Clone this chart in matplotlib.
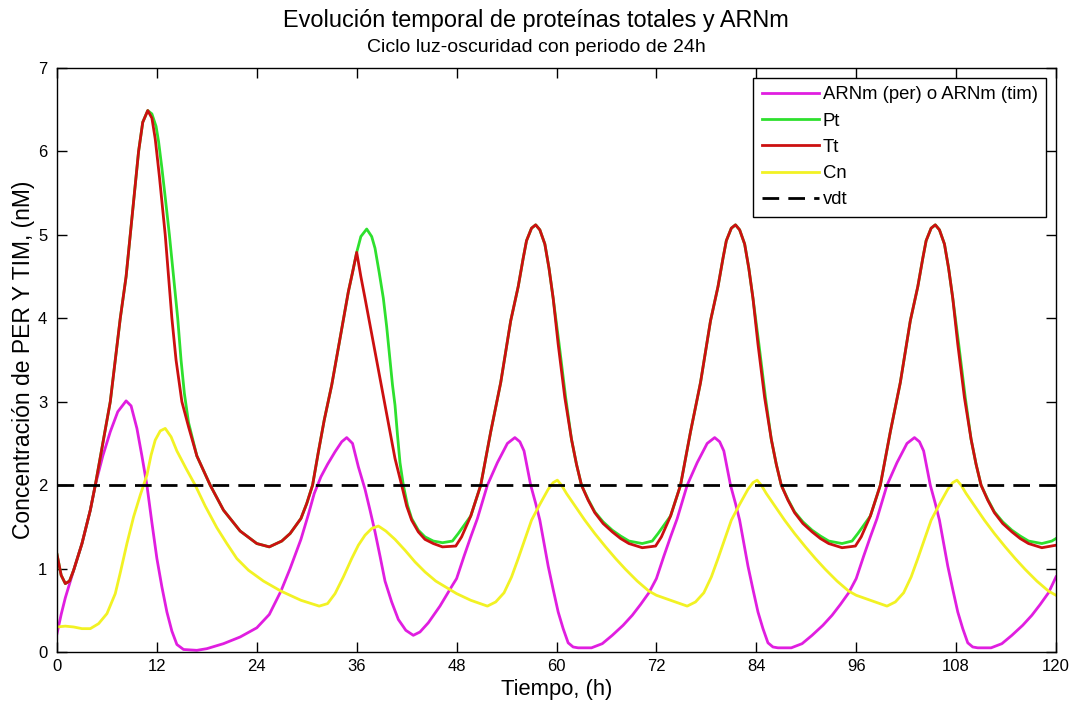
import matplotlib
matplotlib.use("Agg")
import matplotlib.pyplot as plt

plt.rcParams['font.family'] = ['Liberation Sans', 'DejaVu Sans']

# ARNm (per) o ARNm (tim)
t_m = [0, 0.5, 1, 2, 3, 4, 4.6, 5.5, 6.4, 7.3, 8.3, 8.9, 9.6, 10.2, 10.8, 11.4, 12.0, 12.6, 13.2, 13.8,
       14.4, 15.2, 16.8, 18, 20, 22, 24,
       25.5, 26.9, 28, 29.3, 30.2, 30.9, 31.7, 32.5, 33.4, 34.2, 34.8, 35.5, 36.2, 37.0, 37.6, 38.2, 38.8,
       39.4, 40.2, 41.0, 41.9, 42.8, 43.6, 44.6, 46, 47.5, 48,
       48.9, 49.7, 50.5, 51.7, 52.9, 54.1, 55.0, 55.6, 56.1, 56.9, 57.5, 58.0, 59.0, 59.6, 60.2, 60.8,
       61.4, 62.0, 62.6, 64.2, 65.5, 66.7, 68.0, 69.1, 70.1, 71.1, 72,
       72.9, 73.7, 74.5, 75.7, 76.9, 78.1, 79.0, 79.6, 80.1, 80.9, 81.5, 82.0, 83.0, 83.6, 84.2, 84.8,
       85.4, 86.0, 86.6, 88.2, 89.5, 90.7, 92.0, 93.1, 94.1, 95.1, 96,
       96.9, 97.7, 98.5, 99.7, 100.9, 102.1, 103.0, 103.6, 104.1, 104.9, 105.5, 106.0, 107.0, 107.6,
       108.2, 108.8, 109.4, 110.0, 110.6, 112.2, 113.5, 114.7, 116.0, 117.1, 118.1, 119.1, 120]
arnm = [0.22, 0.45, 0.65, 0.98, 1.3, 1.7, 2.0, 2.35, 2.64, 2.88, 3.01, 2.95, 2.68, 2.35, 2.0, 1.55, 1.12,
        0.78, 0.48, 0.25, 0.09, 0.03, 0.02, 0.04, 0.1, 0.18, 0.29,
        0.45, 0.73, 1.0, 1.35, 1.65, 1.9, 2.1, 2.25, 2.4, 2.52, 2.57, 2.5, 2.22, 1.95, 1.7, 1.44, 1.15,
        0.85, 0.6, 0.39, 0.26, 0.2, 0.24, 0.35, 0.55, 0.8, 0.88,
        1.15, 1.38, 1.6, 2.0, 2.27, 2.5, 2.57, 2.52, 2.41, 2.0, 1.78, 1.58, 1.03, 0.75, 0.48, 0.28,
        0.11, 0.06, 0.05, 0.05, 0.1, 0.2, 0.32, 0.44, 0.57, 0.71, 0.88,
        1.15, 1.38, 1.6, 2.0, 2.27, 2.5, 2.57, 2.52, 2.41, 2.0, 1.78, 1.58, 1.03, 0.75, 0.48, 0.28,
        0.11, 0.06, 0.05, 0.05, 0.1, 0.2, 0.32, 0.44, 0.57, 0.71, 0.88,
        1.15, 1.38, 1.6, 2.0, 2.27, 2.5, 2.57, 2.52, 2.41, 2.0, 1.78, 1.58, 1.03, 0.75,
        0.48, 0.28, 0.11, 0.06, 0.05, 0.05, 0.1, 0.2, 0.32, 0.44, 0.57, 0.71, 0.9]

# Tt
t_t = [0, 0.5, 1, 1.5, 2, 3, 4, 4.6, 5.5, 6.4, 7.0, 7.6, 8.3, 8.8, 9.3, 9.8, 10.3, 10.9, 11.4, 11.8,
       12.3, 12.7, 13.0, 13.4, 13.8, 14.3, 15.0, 15.8, 16.8, 18.4, 20, 22, 24,
       25.5, 27, 28, 29.3, 30, 30.7, 31.4, 32.1, 33, 33.8, 34.5, 35, 35.5, 36.0, 36.5, 37, 37.6, 38.2,
       38.8, 39.4, 40, 40.6, 41.4, 42, 42.6, 43.4, 44.2, 45.2, 46.3, 47.9,
       48.6, 49.7, 50.9, 52.1, 53.3, 54.5, 55.4, 56.0, 56.4, 57.0, 57.5, 58.0, 58.6, 59.1, 59.6, 60.2,
       61.0, 61.8, 62.4, 63.0, 63.8, 64.6, 65.6, 66.7, 67.7, 68.7, 70.3, 71.9,
       72.6, 73.7, 74.9, 76.1, 77.3, 78.5, 79.4, 80.0, 80.4, 81.0, 81.5, 82.0, 82.6, 83.1, 83.6, 84.2,
       85.0, 85.8, 86.4, 87.0, 87.8, 88.6, 89.6, 90.7, 91.7, 92.7, 94.3, 95.9,
       96.6, 97.7, 98.9, 100.1, 101.3, 102.5, 103.4, 104.0, 104.4, 105.0, 105.5, 106.0, 106.6, 107.1,
       107.6, 108.2, 109.0, 109.8, 110.4, 111.0, 111.8, 112.6, 113.6, 114.7, 115.7, 116.7, 118.3, 120]
tt = [1.17, 0.92, 0.82, 0.85, 0.98, 1.3, 1.7, 2.0, 2.5, 3.0, 3.5, 4.0, 4.5, 5.0, 5.5, 6.0, 6.35, 6.49,
      6.4, 6.15, 5.7, 5.3, 5.0, 4.5, 4.0, 3.5, 3.0, 2.7, 2.35, 2.0, 1.7, 1.45, 1.3,
      1.26, 1.33, 1.42, 1.6, 1.78, 2.0, 2.4, 2.78, 3.2, 3.65, 4.05, 4.32, 4.55, 4.79, 4.5, 4.24, 3.92,
      3.6, 3.28, 2.96, 2.64, 2.32, 2.0, 1.75, 1.58, 1.44, 1.35, 1.3, 1.26, 1.27,
      1.38, 1.63, 2.0, 2.64, 3.23, 3.97, 4.38, 4.72, 4.93, 5.08, 5.12, 5.06, 4.89, 4.6, 4.24, 3.69,
      3.05, 2.55, 2.25, 2.0, 1.82, 1.67, 1.54, 1.44, 1.36, 1.3, 1.25, 1.27,
      1.38, 1.63, 2.0, 2.64, 3.23, 3.97, 4.38, 4.72, 4.93, 5.08, 5.12, 5.06, 4.89, 4.6, 4.24, 3.69,
      3.05, 2.55, 2.25, 2.0, 1.82, 1.67, 1.54, 1.44, 1.36, 1.3, 1.25, 1.27,
      1.38, 1.63, 2.0, 2.64, 3.23, 3.97, 4.38, 4.72, 4.93, 5.08, 5.12, 5.06, 4.89, 4.6, 4.24, 3.69,
      3.05, 2.55, 2.25, 2.0, 1.82, 1.67, 1.54, 1.44, 1.36, 1.3, 1.25, 1.28]

# Pt
t_p = [0, 0.5, 1, 1.5, 2, 3, 4, 4.6, 5.5, 6.4, 7.0, 7.6, 8.3, 8.8, 9.3, 9.8, 10.3, 10.9, 11.4, 11.9,
       12.2, 12.6, 13.0, 13.5, 14.1, 14.5, 14.9, 15.3, 15.8, 16.8, 18.4, 20, 22, 24,
       25.5, 27, 28, 29.3, 30, 30.7, 31.4, 32.1, 33, 33.8, 34.5, 35, 35.5, 36.0, 36.5, 37.2, 37.8, 38.2,
       38.7, 39.2, 39.6, 40.0, 40.3, 40.6, 40.9, 41.2, 41.6, 42.1, 42.6, 43.4, 44.2, 45.2, 46.3, 47.5,
       48.2, 49.7, 50.9, 52.1, 53.3, 54.5, 55.4, 56.0, 56.4, 57.0, 57.5, 58.0, 58.6, 59.1, 59.6, 60.3,
       61.1, 61.8, 62.4, 63.0, 63.8, 64.6, 65.6, 66.7, 67.7, 68.7, 70.3, 71.5,
       72.2, 73.7, 74.9, 76.1, 77.3, 78.5, 79.4, 80.0, 80.4, 81.0, 81.5, 82.0, 82.6, 83.1, 83.6, 84.3,
       85.1, 85.8, 86.4, 87.0, 87.8, 88.6, 89.6, 90.7, 91.7, 92.7, 94.3, 95.5,
       96.2, 97.7, 98.9, 100.1, 101.3, 102.5, 103.4, 104.0, 104.4, 105.0, 105.5, 106.0, 106.6, 107.1,
       107.6, 108.3, 109.1, 109.8, 110.4, 111.0, 111.8, 112.6, 113.6, 114.7, 115.7, 116.7, 118.3, 119.5, 120]
pt = [1.17, 0.92, 0.82, 0.85, 0.98, 1.3, 1.7, 2.0, 2.5, 3.0, 3.5, 4.0, 4.5, 5.0, 5.5, 6.0, 6.35, 6.49,
      6.45, 6.3, 6.12, 5.8, 5.45, 5.0, 4.4, 4.0, 3.5, 3.1, 2.75, 2.35, 2.0, 1.7, 1.45, 1.3,
      1.26, 1.33, 1.42, 1.6, 1.78, 2.0, 2.4, 2.78, 3.2, 3.65, 4.05, 4.32, 4.55, 4.79, 4.98, 5.07, 4.98,
      4.84, 4.55, 4.24, 3.9, 3.5, 3.2, 2.96, 2.6, 2.27, 2.0, 1.76, 1.6, 1.46, 1.38, 1.33, 1.31, 1.33,
      1.42, 1.63, 2.0, 2.64, 3.23, 3.97, 4.38, 4.72, 4.93, 5.08, 5.12, 5.06, 4.89, 4.6, 4.24, 3.7,
      3.05, 2.55, 2.25, 2.0, 1.83, 1.68, 1.56, 1.46, 1.39, 1.33, 1.3, 1.33,
      1.42, 1.63, 2.0, 2.64, 3.23, 3.97, 4.38, 4.72, 4.93, 5.08, 5.12, 5.06, 4.89, 4.6, 4.24, 3.7,
      3.05, 2.55, 2.25, 2.0, 1.83, 1.68, 1.56, 1.46, 1.39, 1.33, 1.3, 1.33,
      1.42, 1.63, 2.0, 2.64, 3.23, 3.97, 4.38, 4.72, 4.93, 5.08, 5.12, 5.06, 4.89, 4.6, 4.24, 3.7,
      3.05, 2.55, 2.25, 2.0, 1.83, 1.68, 1.56, 1.46, 1.39, 1.33, 1.3, 1.33, 1.36]

# Cn
t_c = [0, 1, 2, 3, 4, 5, 6, 7, 7.6, 8.4, 9.2, 10.0, 10.8, 11.3, 11.8, 12.4, 13.0, 13.7, 14.4, 15.5,
       16.6, 17.8, 19.2, 20.4, 21.6, 23, 24.8, 26.9, 29.3, 31.5, 32.5, 33.4, 34.4, 35.4, 36.2, 37.0,
       37.8, 38.6, 39.5, 40.6, 41.8, 43.0, 44.2, 45.5, 47.5, 48,
       49.7, 51.7, 52.7, 53.7, 54.6, 55.4, 56.2, 57.0, 58.0, 59.0, 59.6, 60.1, 60.6, 61.2, 62.3, 63.4,
       64.6, 65.9, 67.1, 68.3, 69.7, 71.1, 72,
       73.7, 75.7, 76.7, 77.7, 78.6, 79.4, 80.2, 81.0, 82.0, 83.0, 83.6, 84.1, 84.6, 85.2, 86.3, 87.4,
       88.6, 89.9, 91.1, 92.3, 93.7, 95.1, 96,
       97.7, 99.7, 100.7, 101.7, 102.6, 103.4, 104.2, 105.0, 106.0, 107.0, 107.6, 108.1, 108.6, 109.2,
       110.3, 111.4, 112.6, 113.9, 115.1, 116.3, 117.7, 119.1, 120]
cn = [0.3, 0.31, 0.3, 0.28, 0.28, 0.34, 0.46, 0.7, 0.95, 1.3, 1.62, 1.88, 2.12, 2.36, 2.54, 2.65, 2.68,
      2.58, 2.41, 2.2, 2.0, 1.75, 1.49, 1.3, 1.12, 0.98, 0.85, 0.73, 0.62, 0.55, 0.58, 0.7, 0.9, 1.12,
      1.28, 1.4, 1.48, 1.51, 1.45, 1.35, 1.22, 1.08, 0.96, 0.85, 0.73, 0.7,
      0.62, 0.55, 0.6, 0.71, 0.9, 1.12, 1.35, 1.58, 1.77, 1.95, 2.03, 2.06, 2.0, 1.9, 1.74, 1.58,
      1.42, 1.26, 1.12, 0.99, 0.85, 0.73, 0.68,
      0.62, 0.55, 0.6, 0.71, 0.9, 1.12, 1.35, 1.58, 1.77, 1.95, 2.03, 2.06, 2.0, 1.9, 1.74, 1.58,
      1.42, 1.26, 1.12, 0.99, 0.85, 0.73, 0.68,
      0.62, 0.55, 0.6, 0.71, 0.9, 1.12, 1.35, 1.58, 1.77, 1.95, 2.03, 2.06, 2.0, 1.9, 1.74, 1.58,
      1.42, 1.26, 1.12, 0.99, 0.85, 0.73, 0.68]

# vdt
t_v = [0, 120]
vdt = [2, 2]

x_ticks = [0, 12, 24, 36, 48, 60, 72, 84, 96, 108, 120]
y_ticks = [0, 1, 2, 3, 4, 5, 6, 7]

fig = plt.figure(figsize=(10.72, 7.11), dpi=100)
ax = fig.add_axes([57 / 1072, 59 / 711, 999 / 1072, 584 / 711])

ax.plot(t_m, arnm, color='#e01ee0', lw=2, label='ARNm (per) o ARNm (tim)')
ax.plot(t_p, pt, color='#2ee02e', lw=2, label='Pt')
ax.plot(t_t, tt, color='#cc1010', lw=2, label='Tt')
ax.plot(t_c, cn, color='#f2f224', lw=2, label='Cn')
ax.plot(t_v, vdt, color='black', lw=2, ls=(0, (6, 3.3)), label='vdt')

ax.set_xlim(0, 120)
ax.set_ylim(0, 7)
ax.set_xticks(x_ticks)
ax.set_yticks(y_ticks)
ax.tick_params(direction='in', length=7, width=1, top=True, right=True, labelsize=12)
ax.tick_params(axis='x', pad=5)
ax.tick_params(axis='y', pad=7)
for s in ax.spines.values():
    s.set_linewidth(1)

ax.set_xlabel('Tiempo, (h)', fontsize=15.8, labelpad=4)
ax.set_ylabel('Concentración de PER Y TIM, (nM)', fontsize=16.5, labelpad=2)

fig.text(0.5, 0.971, 'Evolución temporal de proteínas totales y ARNm', ha='center', va='center',
         fontsize=16.9)
fig.text(0.5, 0.933, 'Ciclo luz-oscuridad con periodo de 24h', ha='center', va='center',
         fontsize=14)

leg = ax.legend(loc='upper right', fontsize=13.3, frameon=True, fancybox=False, framealpha=1,
                edgecolor='black', borderaxespad=0.55, handlelength=3.1, handletextpad=0.2,
                labelspacing=0.5, borderpad=0.45)
leg.get_frame().set_linewidth(1)

fig.savefig('out.png', dpi=100)
